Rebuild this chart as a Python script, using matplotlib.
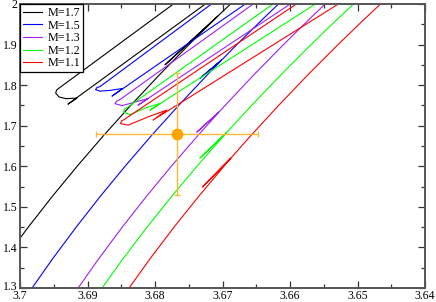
import matplotlib
matplotlib.use("Agg")
import matplotlib.pyplot as plt
import matplotlib.transforms as mtransforms
from matplotlib.ticker import MultipleLocator, FixedLocator
from matplotlib.lines import Line2D

plt.rcParams['font.family'] = ['Liberation Serif', 'DejaVu Serif']

# ---- track data: (log Teff, log L) ----
# M=1.7  (giant branch with bump, then clump hook + AGB)
teff_17_rgb = [3.70572, 3.70235, 3.69878, 3.69525, 3.69154, 3.68766, 3.68360, 3.67937,
               3.67496, 3.67070, 3.67852, 3.67039, 3.66755]
lum_17_rgb = [1.29, 1.37, 1.45, 1.525, 1.60, 1.675, 1.75, 1.825,
              1.90, 1.97, 1.85, 1.975, 2.02]
teff_17_hb = [3.67096, 3.69289, 3.69156, 3.69319, 3.69422, 3.69471, 3.69459, 3.69422, 3.67570]
lum_17_hb = [2.0192, 1.75320, 1.76798, 1.76675, 1.77094, 1.78030, 1.78768, 1.79261, 2.0192]

# M=1.5
teff_15_rgb = [3.69863, 3.69526, 3.69168, 3.68815, 3.68444, 3.68056, 3.67650, 3.67227,
               3.67015, 3.67333, 3.66994, 3.66787, 3.66421, 3.66046]
lum_15_rgb = [1.29, 1.37, 1.45, 1.525, 1.60, 1.675, 1.75, 1.825,
              1.8616, 1.817, 1.865, 1.90, 1.96, 2.02]
teff_15_hb = [3.66495, 3.68637, 3.68481, 3.68667, 3.68815, 3.68881, 3.68859, 3.68815, 3.67007]
lum_15_hb = [2.0192, 1.77291, 1.79187, 1.78695, 1.78522, 1.78892, 1.79434, 1.79631, 2.0192]

# M=1.3
teff_13_rgb = [3.69181, 3.68843, 3.68485, 3.68131, 3.67759, 3.67369, 3.67053, 3.67381,
               3.67034, 3.66962, 3.66538, 3.66096, 3.65730, 3.65352]
lum_13_rgb = [1.29, 1.37, 1.45, 1.525, 1.60, 1.675, 1.7335, 1.684,
              1.737, 1.75, 1.825, 1.90, 1.96, 2.02]
teff_13_hb = [3.65822, 3.68252, 3.68099, 3.68296, 3.68489, 3.68593, 3.68570, 3.68519, 3.66385]
lum_13_hb = [2.0192, 1.75074, 1.76724, 1.75813, 1.74951, 1.75443, 1.76059, 1.76429, 2.0192]

# M=1.2
teff_12_rgb = [3.68827, 3.68483, 3.68118, 3.67757, 3.67379, 3.66983, 3.66945, 3.67336,
               3.66924, 3.66569, 3.66137, 3.65688, 3.65315, 3.64931]
lum_12_rgb = [1.29, 1.37, 1.45, 1.525, 1.60, 1.675, 1.682, 1.620,
              1.686, 1.75, 1.825, 1.90, 1.96, 2.02]
teff_12_hb = [3.65444, 3.68074, 3.67926, 3.68148, 3.68370, 3.68467, 3.68452, 3.68415, 3.66089]
lum_12_hb = [2.0192, 1.73842, 1.75493, 1.74335, 1.72734, 1.73350, 1.74089, 1.74458, 2.0192]

# M=1.1
teff_11_rgb = [3.68427, 3.68083, 3.67718, 3.67357, 3.66979, 3.66876, 3.67298, 3.66855,
               3.66583, 3.66169, 3.65737, 3.65288, 3.64915, 3.64531]
lum_11_rgb = [1.29, 1.37, 1.45, 1.525, 1.60, 1.620, 1.549, 1.624,
              1.675, 1.75, 1.825, 1.90, 1.96, 2.02]
teff_11_hb = [3.65099, 3.68030, 3.67827, 3.68074, 3.68400, 3.68511, 3.68496, 3.68459, 3.65733]
lum_11_hb = [2.0192, 1.71379, 1.73842, 1.72365, 1.70148, 1.70517, 1.71133, 1.71502, 2.0192]

# observed star
star_teff = 3.6767
star_lum = 1.68
star_teff_err = 0.012
star_lum_err = 0.15

labels = ['M=1.7', 'M=1.5', 'M=1.3', 'M=1.2', 'M=1.1']
colors = ['black', '#0000ff', '#a020f0', '#00ff00', '#ff0000']
tracks = [
    (teff_17_rgb, lum_17_rgb, teff_17_hb, lum_17_hb),
    (teff_15_rgb, lum_15_rgb, teff_15_hb, lum_15_hb),
    (teff_13_rgb, lum_13_rgb, teff_13_hb, lum_13_hb),
    (teff_12_rgb, lum_12_rgb, teff_12_hb, lum_12_hb),
    (teff_11_rgb, lum_11_rgb, teff_11_hb, lum_11_hb),
]

fig = plt.figure(figsize=(4.36, 3.02), dpi=100)
ax = fig.add_axes([20 / 436, 14 / 302, 405 / 436, 284 / 302])

for (t1, l1, t2, l2), c in zip(tracks, colors):
    ax.plot(t1, l1, color=c, lw=0.8)
    ax.plot(t2, l2, color=c, lw=0.8)

ax.errorbar(star_teff, star_lum, xerr=star_teff_err, yerr=star_lum_err,
            fmt='o', color='#ffa500', ms=7.5, elinewidth=1.0, capsize=2,
            capthick=1.0, ecolor='#ffb833', zorder=5)

ax.set_xlim(3.70, 3.64)
ax.set_ylim(1.3, 2.0)

xt = [3.70, 3.69, 3.68, 3.67, 3.66, 3.65, 3.64]
ax.xaxis.set_major_locator(FixedLocator(xt))
ax.set_xticklabels(['3.7', '3.69', '3.68', '3.67', '3.66', '3.65', '3.64'])
ax.xaxis.set_minor_locator(MultipleLocator(0.005))
yt = [1.3, 1.4, 1.5, 1.6, 1.7, 1.8, 1.9, 2.0]
ax.yaxis.set_major_locator(FixedLocator(yt))
ylabs = ax.set_yticklabels(['1.3', '1.4', '1.5', '1.6', '1.7', '1.8', '1.9', '2'])
ax.yaxis.set_minor_locator(MultipleLocator(0.05))

ax.tick_params(which='both', direction='in', top=True, right=True,
               labelsize=8.5, pad=2, color='#333333')
ax.tick_params(axis='x', which='both', pad=1.5)
ax.tick_params(which='major', length=5, width=0.9)
ax.tick_params(which='minor', length=3, width=0.9)
for s in ax.spines.values():
    s.set_linewidth(1.4)
    s.set_color('#555555')

# lift the lowest y label a touch so it clears the "3.7" below it
shift = mtransforms.ScaledTranslation(0, 3 / 100, fig.dpi_scale_trans)
ylabs[0].set_transform(ylabs[0].get_transform() + shift)

handles = [Line2D([], [], color=c, lw=0.8) for c in colors]
leg = ax.legend(handles, labels, loc='upper left', bbox_to_anchor=(0, 1),
                borderaxespad=0, fontsize=8.7, frameon=True, fancybox=False,
                framealpha=1, edgecolor='black', handlelength=1.6,
                handletextpad=0.4, labelspacing=0.05, borderpad=0.25)
leg.get_frame().set_linewidth(0.9)

fig.savefig('out.png', dpi=100)
